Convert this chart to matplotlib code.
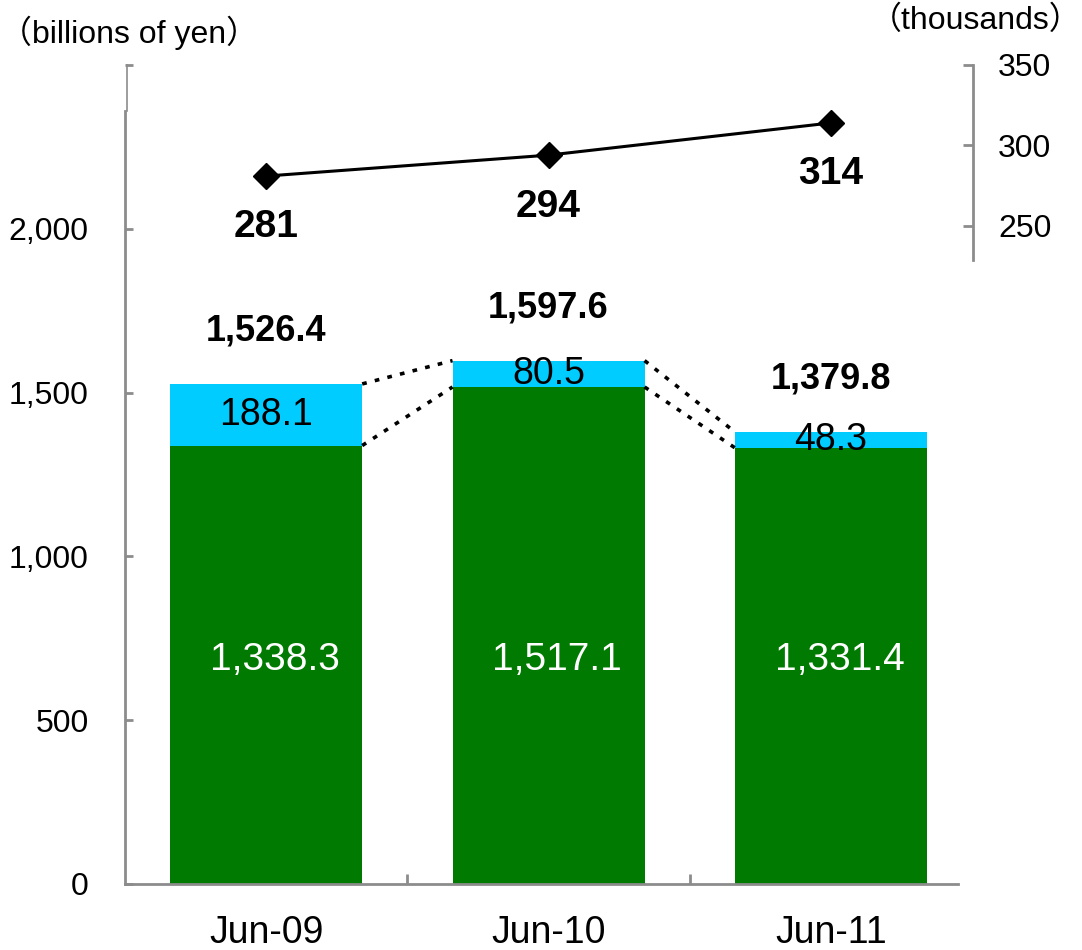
import numpy as np
import matplotlib.pyplot as plt

plt.rcParams['font.family'] = ['Liberation Sans', 'Noto Sans CJK JP', 'DejaVu Sans']

# data
categories = ['Jun-09', 'Jun-10', 'Jun-11']
green_vals = [1338.3, 1517.1, 1331.4]
cyan_vals = [188.1, 80.5, 48.3]
totals = [1526.4, 1597.6, 1379.8]
members = [281, 294, 314]   # thousands

GREEN = '#007A00'
CYAN = '#00CCFF'
GRAY = '#8c8c8c'

fig = plt.figure(figsize=(10.82, 9.5), dpi=100)
ax = fig.add_axes([0.1155, 0.0695, 0.7699, 0.8621])

x = np.arange(len(categories))
w = 0.68
green = np.array(green_vals)
cyan = np.array(cyan_vals)
tops = green + cyan

ax.bar(x, green, width=w, color=GREEN, zorder=2)
ax.bar(x, cyan, width=w, bottom=green, color=CYAN, zorder=2)

# dotted connectors between bars
for i in range(len(x) - 1):
    for yv in (tops, green):
        ax.plot([x[i] + w / 2, x[i + 1] - w / 2], [yv[i], yv[i + 1]],
                color='black', lw=2.6, linestyle=(0, (1.3, 2.3)), zorder=3)

# value labels
for i in range(len(x)):
    ax.annotate(f'{totals[i]:,.1f}', (x[i], tops[i]), xytext=(0, 38),
                textcoords='offset points', ha='center', va='center',
                fontsize=26, fontweight='bold')
    ax.text(x[i], green[i] + cyan[i] / 2, f'{cyan[i]:.1f}', ha='center',
            va='center', fontsize=27, zorder=4)
    ax.text(x[i] + 0.03, 685, f'{green[i]:,.1f}', ha='center', va='center',
            fontsize=28, color='white', zorder=4)

ax.set_xlim(-0.5, 2.45)
ax.set_ylim(0, 2500)
for s in ('top', 'right'):
    ax.spines[s].set_visible(False)
for s in ('left', 'bottom'):
    ax.spines[s].set_color(GRAY)
    ax.spines[s].set_linewidth(2)
ax.spines['left'].set_bounds(0, 2360)
ax.plot([-0.493, -0.493], [2360, 2500], color=GRAY, lw=1.2, clip_on=False)

yt = [0, 500, 1000, 1500, 2000, 2500]
ax.set_yticks(yt)
ax.set_yticklabels([f'{v:,}' if v < 2500 else '' for v in yt])
ax.tick_params(axis='y', direction='in', length=6, width=2, color=GRAY,
               labelsize=23, pad=26)
ax.set_xticks(x)
ax.set_xticklabels(categories)
ax.tick_params(axis='x', which='major', length=0, labelsize=27, pad=22)
ax.set_xticks([0.5, 1.5], minor=True)
ax.tick_params(axis='x', which='minor', direction='in', length=7, width=2,
               color=GRAY)

# secondary axis: members
ax2 = ax.twinx()
ax2.plot(x, members, color='black', lw=2.2, marker='D', ms=13, zorder=5)
for i in range(len(x)):
    ax2.annotate(str(members[i]), (x[i], members[i]), xytext=(0, -37),
                 textcoords='offset points', ha='center', va='center',
                 fontsize=28, fontweight='bold')
ax2.set_ylim(-158.7, 350)
for s in ('top', 'left', 'bottom'):
    ax2.spines[s].set_visible(False)
ax2.spines['right'].set_position(('outward', 10.8))
ax2.spines['right'].set_bounds(229, 350)
ax2.spines['right'].set_color(GRAY)
ax2.spines['right'].set_linewidth(2)
ax2.set_yticks([250, 300, 350])
ax2.tick_params(axis='y', direction='in', length=7, width=2, color=GRAY,
                labelsize=23, pad=18)

fig.text(0.0, 1 - 33 / 950, '（billions of yen）', ha='left', va='center',
         fontsize=23)
fig.text(1.0, 1 - 21 / 950, '（thousands）', ha='right', va='center',
         fontsize=23)

fig.savefig('out.png', dpi=100)
